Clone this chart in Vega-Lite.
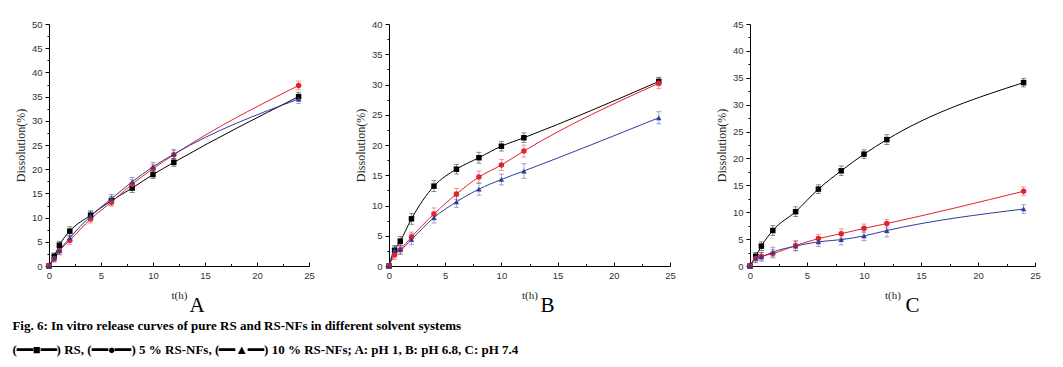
{
  "$schema": "https://vega.github.io/schema/vega-lite/v6.json",
  "padding": {"left": 12, "top": 19, "right": 10, "bottom": 8},
  "background": "white",
  "spacing": 39,
  "title": {
    "text": [
      "Fig. 6: In vitro release curves of pure RS and RS-NFs in different solvent systems",
      "(━━■━━) RS, (━━●━━) 5 % RS-NFs, (━━▲━━) 10 % RS-NFs; A: pH 1, B: pH 6.8, C: pH 7.4"
    ],
    "orient": "bottom",
    "anchor": "start",
    "font": "Liberation Serif",
    "fontSize": 13,
    "fontWeight": "bold",
    "color": "#000",
    "lineHeight": 24,
    "offset": 4,
    "dx": -2
  },
  "data": {
    "values": [
      {"p":"A","s":"RS","t":0,"v":0,"e":0},
      {"p":"A","s":"RS","t":0.5,"v":2.0,"e":0.7},
      {"p":"A","s":"RS","t":1,"v":4.3,"e":0.8},
      {"p":"A","s":"RS","t":2,"v":7.2,"e":0.9},
      {"p":"A","s":"RS","t":4,"v":10.5,"e":0.9},
      {"p":"A","s":"RS","t":6,"v":13.5,"e":0.9},
      {"p":"A","s":"RS","t":8,"v":16.1,"e":0.9},
      {"p":"A","s":"RS","t":10,"v":18.9,"e":0.8},
      {"p":"A","s":"RS","t":12,"v":21.4,"e":0.8},
      {"p":"A","s":"RS","t":24,"v":35.0,"e":0.9},
      {"p":"A","s":"5 % RS-NFs","t":0,"v":0,"e":0},
      {"p":"A","s":"5 % RS-NFs","t":0.5,"v":1.5,"e":0.7},
      {"p":"A","s":"5 % RS-NFs","t":1,"v":3.1,"e":0.8},
      {"p":"A","s":"5 % RS-NFs","t":2,"v":5.3,"e":0.8},
      {"p":"A","s":"5 % RS-NFs","t":4,"v":9.7,"e":0.8},
      {"p":"A","s":"5 % RS-NFs","t":6,"v":13.2,"e":0.8},
      {"p":"A","s":"5 % RS-NFs","t":8,"v":16.9,"e":0.9},
      {"p":"A","s":"5 % RS-NFs","t":10,"v":20.1,"e":0.9},
      {"p":"A","s":"5 % RS-NFs","t":12,"v":23.0,"e":0.9},
      {"p":"A","s":"5 % RS-NFs","t":24,"v":37.3,"e":0.9},
      {"p":"A","s":"10 % RS-NFs","t":0,"v":0,"e":0},
      {"p":"A","s":"10 % RS-NFs","t":0.5,"v":1.7,"e":0.8},
      {"p":"A","s":"10 % RS-NFs","t":1,"v":3.2,"e":0.8},
      {"p":"A","s":"10 % RS-NFs","t":2,"v":5.8,"e":0.9},
      {"p":"A","s":"10 % RS-NFs","t":4,"v":10.3,"e":0.9},
      {"p":"A","s":"10 % RS-NFs","t":6,"v":13.9,"e":0.9},
      {"p":"A","s":"10 % RS-NFs","t":8,"v":17.4,"e":0.9},
      {"p":"A","s":"10 % RS-NFs","t":10,"v":20.5,"e":0.9},
      {"p":"A","s":"10 % RS-NFs","t":12,"v":23.1,"e":1.0},
      {"p":"A","s":"10 % RS-NFs","t":24,"v":34.5,"e":0.9},
      {"p":"B","s":"RS","t":0,"v":0,"e":0},
      {"p":"B","s":"RS","t":0.5,"v":2.6,"e":0.7},
      {"p":"B","s":"RS","t":1,"v":4.1,"e":0.8},
      {"p":"B","s":"RS","t":2,"v":7.8,"e":0.9},
      {"p":"B","s":"RS","t":4,"v":13.2,"e":0.9},
      {"p":"B","s":"RS","t":6,"v":16.0,"e":0.8},
      {"p":"B","s":"RS","t":8,"v":17.9,"e":0.9},
      {"p":"B","s":"RS","t":10,"v":19.8,"e":0.8},
      {"p":"B","s":"RS","t":12,"v":21.2,"e":0.8},
      {"p":"B","s":"RS","t":24,"v":30.5,"e":0.7},
      {"p":"B","s":"5 % RS-NFs","t":0,"v":0,"e":0},
      {"p":"B","s":"5 % RS-NFs","t":0.5,"v":1.8,"e":0.7},
      {"p":"B","s":"5 % RS-NFs","t":1,"v":2.7,"e":0.7},
      {"p":"B","s":"5 % RS-NFs","t":2,"v":4.8,"e":0.8},
      {"p":"B","s":"5 % RS-NFs","t":4,"v":8.6,"e":1.0},
      {"p":"B","s":"5 % RS-NFs","t":6,"v":11.9,"e":0.9},
      {"p":"B","s":"5 % RS-NFs","t":8,"v":14.7,"e":1.0},
      {"p":"B","s":"5 % RS-NFs","t":10,"v":16.7,"e":0.9},
      {"p":"B","s":"5 % RS-NFs","t":12,"v":19.0,"e":1.0},
      {"p":"B","s":"5 % RS-NFs","t":24,"v":30.2,"e":0.9},
      {"p":"B","s":"10 % RS-NFs","t":0,"v":0,"e":0},
      {"p":"B","s":"10 % RS-NFs","t":0.5,"v":2.6,"e":0.8},
      {"p":"B","s":"10 % RS-NFs","t":1,"v":2.7,"e":0.8},
      {"p":"B","s":"10 % RS-NFs","t":2,"v":4.4,"e":0.9},
      {"p":"B","s":"10 % RS-NFs","t":4,"v":8.0,"e":0.9},
      {"p":"B","s":"10 % RS-NFs","t":6,"v":10.6,"e":0.9},
      {"p":"B","s":"10 % RS-NFs","t":8,"v":12.7,"e":1.0},
      {"p":"B","s":"10 % RS-NFs","t":10,"v":14.3,"e":0.9},
      {"p":"B","s":"10 % RS-NFs","t":12,"v":15.7,"e":1.2},
      {"p":"B","s":"10 % RS-NFs","t":24,"v":24.5,"e":1.0},
      {"p":"C","s":"RS","t":0,"v":0,"e":0},
      {"p":"C","s":"RS","t":0.5,"v":1.8,"e":0.7},
      {"p":"C","s":"RS","t":1,"v":3.7,"e":0.8},
      {"p":"C","s":"RS","t":2,"v":6.6,"e":0.9},
      {"p":"C","s":"RS","t":4,"v":10.1,"e":0.9},
      {"p":"C","s":"RS","t":6,"v":14.3,"e":0.8},
      {"p":"C","s":"RS","t":8,"v":17.7,"e":0.9},
      {"p":"C","s":"RS","t":10,"v":20.8,"e":0.8},
      {"p":"C","s":"RS","t":12,"v":23.5,"e":0.9},
      {"p":"C","s":"RS","t":24,"v":34.1,"e":0.8},
      {"p":"C","s":"5 % RS-NFs","t":0,"v":0,"e":0},
      {"p":"C","s":"5 % RS-NFs","t":0.5,"v":1.4,"e":0.7},
      {"p":"C","s":"5 % RS-NFs","t":1,"v":1.8,"e":0.7},
      {"p":"C","s":"5 % RS-NFs","t":2,"v":2.3,"e":0.8},
      {"p":"C","s":"5 % RS-NFs","t":4,"v":3.8,"e":0.9},
      {"p":"C","s":"5 % RS-NFs","t":6,"v":5.1,"e":0.8},
      {"p":"C","s":"5 % RS-NFs","t":8,"v":6.0,"e":0.9},
      {"p":"C","s":"5 % RS-NFs","t":10,"v":7.0,"e":0.8},
      {"p":"C","s":"5 % RS-NFs","t":12,"v":7.9,"e":0.8},
      {"p":"C","s":"5 % RS-NFs","t":24,"v":13.9,"e":0.8},
      {"p":"C","s":"10 % RS-NFs","t":0,"v":0,"e":0},
      {"p":"C","s":"10 % RS-NFs","t":0.5,"v":1.4,"e":0.8},
      {"p":"C","s":"10 % RS-NFs","t":1,"v":1.7,"e":0.8},
      {"p":"C","s":"10 % RS-NFs","t":2,"v":2.6,"e":0.9},
      {"p":"C","s":"10 % RS-NFs","t":4,"v":3.7,"e":0.9},
      {"p":"C","s":"10 % RS-NFs","t":6,"v":4.5,"e":0.9},
      {"p":"C","s":"10 % RS-NFs","t":8,"v":4.9,"e":1.0},
      {"p":"C","s":"10 % RS-NFs","t":10,"v":5.6,"e":0.9},
      {"p":"C","s":"10 % RS-NFs","t":12,"v":6.6,"e":1.2},
      {"p":"C","s":"10 % RS-NFs","t":24,"v":10.6,"e":0.8}
    ]
  },
  "hconcat": [
    {
      "width": 260,
      "height": 242,
      "title": {"text": "A", "orient": "bottom", "dx": 18, "offset": -5, "fontSize": 21, "font": "Liberation Serif", "fontWeight": "normal", "color": "#000"},
      "transform": [{"filter": "datum.p === 'A'"}],
      "encoding": {
        "x": {"field": "t", "type": "quantitative", "scale": {"domain": [0, 25], "nice": false},
          "axis": {"title": "t(h)", "values": [0,2.5,5,7.5,10,12.5,15,17.5,20,22.5,25], "labelExpr": "datum.value % 5 === 0 ? datum.label : ''",
            "tickSize": {"condition": {"test": "datum.value % 5 === 0", "value": -4}, "value": -2.5}}},
        "y": {"field": "v", "type": "quantitative", "scale": {"domain": [0, 50], "nice": false},
          "axis": {"title": "Dissolution(%)", "values": [0,2.5,5,7.5,10,12.5,15,17.5,20,22.5,25,27.5,30,32.5,35,37.5,40,42.5,45,47.5,50], "labelExpr": "datum.value % 5 === 0 ? datum.label : ''",
            "tickSize": {"condition": {"test": "datum.value % 5 === 0", "value": 4}, "value": 2}}},
        "color": {"field": "s", "type": "nominal", "scale": {"domain": ["RS", "5 % RS-NFs", "10 % RS-NFs"], "range": ["#000000", "#e3232c", "#303c9c"]}, "legend": null}
      },
      "layer": [
        {"mark": {"type": "errorbar", "ticks": {"size": 5}, "opacity": 0.55, "thickness": 0.8}, "encoding": {"yError": {"field": "e"}}},
        {"mark": {"type": "line", "interpolate": "monotone", "strokeWidth": 1}},
        {"mark": {"type": "point", "filled": true, "opacity": 1, "size": 30}, "encoding": {"shape": {"field": "s", "type": "nominal", "scale": {"domain": ["RS", "5 % RS-NFs", "10 % RS-NFs"], "range": ["square", "circle", "triangle-up"]}, "legend": null}}}
      ]
    },
    {
      "width": 281,
      "height": 242,
      "title": {"text": "B", "orient": "bottom", "dx": 18, "offset": -5, "fontSize": 21, "font": "Liberation Serif", "fontWeight": "normal", "color": "#000"},
      "transform": [{"filter": "datum.p === 'B'"}],
      "encoding": {
        "x": {"field": "t", "type": "quantitative", "scale": {"domain": [0, 25], "nice": false},
          "axis": {"title": "t(h)", "values": [0,2.5,5,7.5,10,12.5,15,17.5,20,22.5,25], "labelExpr": "datum.value % 5 === 0 ? datum.label : ''",
            "tickSize": {"condition": {"test": "datum.value % 5 === 0", "value": -4}, "value": -2.5}}},
        "y": {"field": "v", "type": "quantitative", "scale": {"domain": [0, 40], "nice": false},
          "axis": {"title": "Dissolution(%)", "values": [0,2.5,5,7.5,10,12.5,15,17.5,20,22.5,25,27.5,30,32.5,35,37.5,40], "labelExpr": "datum.value % 5 === 0 ? datum.label : ''",
            "tickSize": {"condition": {"test": "datum.value % 5 === 0", "value": 4}, "value": 2}}},
        "color": {"field": "s", "type": "nominal", "scale": {"domain": ["RS", "5 % RS-NFs", "10 % RS-NFs"], "range": ["#000000", "#e3232c", "#303c9c"]}, "legend": null}
      },
      "layer": [
        {"mark": {"type": "errorbar", "ticks": {"size": 5}, "opacity": 0.55, "thickness": 0.8}, "encoding": {"yError": {"field": "e"}}},
        {"mark": {"type": "line", "interpolate": "monotone", "strokeWidth": 1}},
        {"mark": {"type": "point", "filled": true, "opacity": 1, "size": 30}, "encoding": {"shape": {"field": "s", "type": "nominal", "scale": {"domain": ["RS", "5 % RS-NFs", "10 % RS-NFs"], "range": ["square", "circle", "triangle-up"]}, "legend": null}}}
      ]
    },
    {
      "width": 285,
      "height": 242,
      "title": {"text": "C", "orient": "bottom", "dx": 20, "offset": -5, "fontSize": 21, "font": "Liberation Serif", "fontWeight": "normal", "color": "#000"},
      "transform": [{"filter": "datum.p === 'C'"}],
      "encoding": {
        "x": {"field": "t", "type": "quantitative", "scale": {"domain": [0, 25], "nice": false},
          "axis": {"title": "t(h)", "values": [0,2.5,5,7.5,10,12.5,15,17.5,20,22.5,25], "labelExpr": "datum.value % 5 === 0 ? datum.label : ''",
            "tickSize": {"condition": {"test": "datum.value % 5 === 0", "value": -4}, "value": -2.5}}},
        "y": {"field": "v", "type": "quantitative", "scale": {"domain": [0, 45], "nice": false},
          "axis": {"title": "Dissolution(%)", "values": [0,2.5,5,7.5,10,12.5,15,17.5,20,22.5,25,27.5,30,32.5,35,37.5,40,42.5,45], "labelExpr": "datum.value % 5 === 0 ? datum.label : ''",
            "tickSize": {"condition": {"test": "datum.value % 5 === 0", "value": 4}, "value": 2}}},
        "color": {"field": "s", "type": "nominal", "scale": {"domain": ["RS", "5 % RS-NFs", "10 % RS-NFs"], "range": ["#000000", "#e3232c", "#303c9c"]}, "legend": null}
      },
      "layer": [
        {"mark": {"type": "errorbar", "ticks": {"size": 5}, "opacity": 0.55, "thickness": 0.8}, "encoding": {"yError": {"field": "e"}}},
        {"mark": {"type": "line", "interpolate": "monotone", "strokeWidth": 1}},
        {"mark": {"type": "point", "filled": true, "opacity": 1, "size": 30}, "encoding": {"shape": {"field": "s", "type": "nominal", "scale": {"domain": ["RS", "5 % RS-NFs", "10 % RS-NFs"], "range": ["square", "circle", "triangle-up"]}, "legend": null}}}
      ]
    }
  ],
  "config": {
    "view": {"stroke": null},
    "axis": {
      "grid": false,
      "labelFont": "Liberation Sans",
      "labelFontSize": 9.5,
      "labelColor": "#333",
      "labelFlush": false,
      "labelOverlap": false,
      "labelPadding": 3,
      "titleFont": "Liberation Serif",
      "titleFontWeight": "normal",
      "titleFontSize": 12,
      "titleColor": "#222",
      "domainColor": "#000",
      "domainWidth": 1,
      "tickColor": "#000",
      "tickWidth": 1
    },
    "axisX": {"titleFontSize": 11, "titlePadding": 8, "labelPadding": 8},
    "axisY": {"titlePadding": 4}
  }
}
